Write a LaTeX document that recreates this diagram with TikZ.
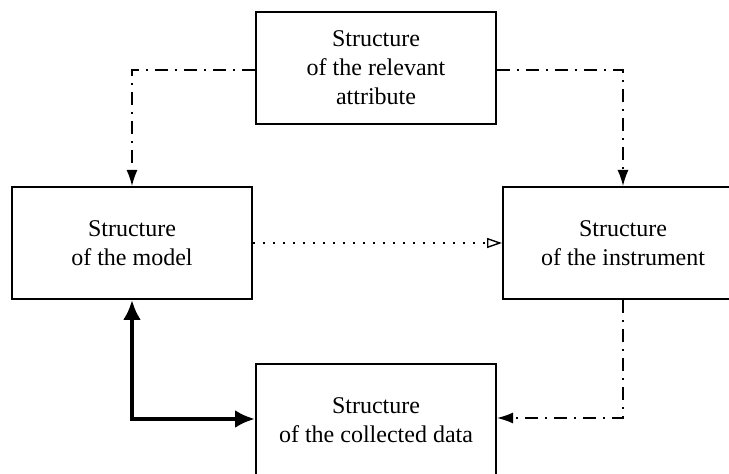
\documentclass[tikz,border=0pt]{standalone}
\usepackage{fontspec}
\setmainfont{Liberation Serif}
\usetikzlibrary{arrows.meta}

\begin{document}
\begin{tikzpicture}[x=0.5pt,y=-0.5pt,
        box/.style={draw=black, line width=1pt, minimum width=120pt, minimum height=56pt,
          align=center, inner sep=0pt, font=\fontsize{12}{14.5}\selectfont},
        dashdot/.style={line width=0.7pt, dash pattern=on 6.5pt off 3.5pt on 1pt off 3.5pt,
          -{Latex[length=8pt,width=5.5pt]}},
        dotline/.style={line width=0.7pt, dash pattern=on 1pt off 4pt,
          -{Triangle[open,length=7.5pt,width=5pt,line width=0.7pt]}},
        thickline/.style={line width=2pt, {Latex[length=10pt,width=9pt]}-{Latex[length=10pt,width=9pt]}}]

    \useasboundingbox (0,0) rectangle (729,474);
    \clip (0,0) rectangle (729,474);

    \node[box] (attr) at (376,68) {Structure\\of the relevant\\attribute};
    \node[box] (model) at (132,243) {Structure\\of the model};
    \node[box] (instr) at (623,243) {Structure\\of the instrument};
    \node[box] (data) at (376,420) {Structure\\of the collected data};

    \draw[dashdot] ([yshift=-1pt]attr.west) -| (model.north);
    \draw[dashdot] ([yshift=-1pt]attr.east) -| (instr.north);
    \draw[dotline] (model.east) -- (instr.west);
    \draw[dashdot] (instr.south) |- ([yshift=1pt]data.east);
    \draw[thickline] (model.south) |- ([yshift=0.5pt]data.west);

\end{tikzpicture}
\end{document}
